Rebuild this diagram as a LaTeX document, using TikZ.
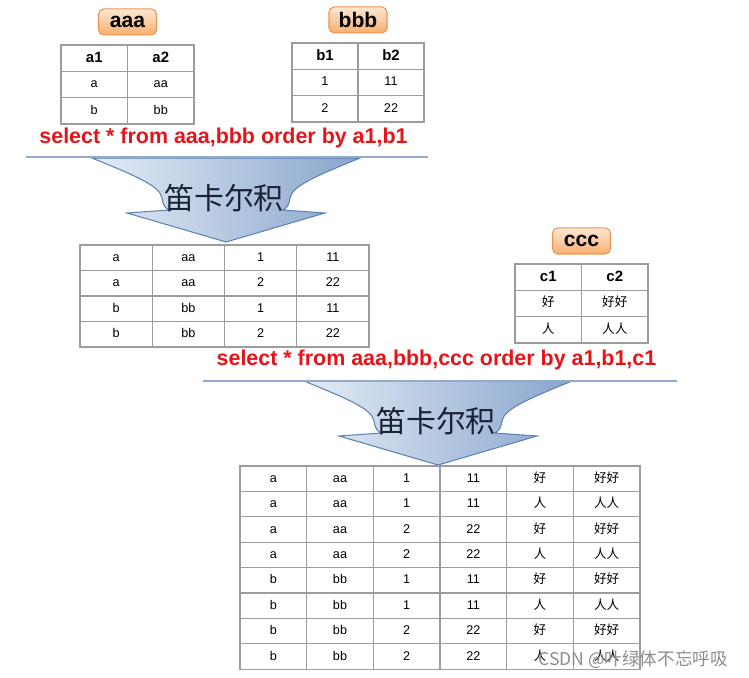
\documentclass[tikz,border=0pt]{standalone}
\usepackage{fontspec}
\setmainfont{Liberation Sans}
\newfontfamily\cjk{Noto Sans CJK SC}
\usetikzlibrary{matrix,positioning}

\definecolor{gridgray}{HTML}{9C9C9C}
\definecolor{sqlred}{HTML}{E5141B}
\definecolor{tagtop}{HTML}{FDE7D3}
\definecolor{tagbot}{HTML}{F8AE6E}
\definecolor{tagline}{HTML}{EF9450}
\definecolor{arrowleft}{HTML}{E4ECF6}
\definecolor{arrowright}{HTML}{88A5CC}
\definecolor{arrowline}{HTML}{5F82B2}
\definecolor{ruleblue}{HTML}{93ABCB}
\definecolor{inkblue}{HTML}{1B2236}

\newcommand\pu{0.02cm}

% the big curved down arrow, drawn from the middle of its top edge
\tikzset{
  pics/cartarrow/.style={code={
    \draw[bigarrow] (-134,0) .. controls (-90,18) and (-66,28) .. (-64,40)
      .. controls (-63,48) and (-60,51) .. (-56,52) -- (-99,55) -- (0,84)
      -- (99,55) -- (56,52) .. controls (60,51) and (63,48) .. (64,40)
      .. controls (66,28) and (90,18) .. (134,0) -- cycle;
    \node[arrowtext] (-txt) at (-2,40) {笛卡尔积};
  }}
}

\begin{document}
\begin{tikzpicture}[
  x=\pu, y=-\pu,
  cell/.style={draw=gridgray, line width=0.75pt, inner sep=0pt, anchor=center,
               text height=5.4pt, text depth=1.4pt,
               font=\fontsize{7.2}{8}\selectfont},
  head/.style={text height=6.3pt, text depth=1.7pt,
               font=\fontsize{8.5}{10}\selectfont\bfseries},
  tab/.style={matrix of nodes, anchor=north west, inner sep=0pt,
              column sep=-0.75pt, row sep=-0.75pt, nodes={cell},
              row 1/.style={nodes={#1}}},
  tab/.default={},
  tag/.style={draw=tagline, line width=0.6pt, rounded corners=3pt,
              top color=tagtop, bottom color=tagbot, inner sep=0pt,
              minimum width=58*\pu, minimum height=26*\pu,
              font=\fontsize{12}{14}\selectfont\bfseries},
  sql/.style={text=sqlred, font=\fontsize{12.2}{14}\selectfont\bfseries},
  rule/.style={draw=ruleblue, line width=1.2pt},
  bigarrow/.style={draw=arrowline, line width=0.6pt,
                   left color=arrowleft, right color=arrowright},
  arrowtext/.style={text=inkblue, font=\cjk\fontsize{17}{20}\selectfont},
  node distance=0.17cm
]
\useasboundingbox (0,0) rectangle (749,678);

% source tables
\matrix[tab=head, nodes={minimum width=66.5*\pu, minimum height=26.3*\pu}]
  (aaatab) at (60,44) {
  a1 & a2 \\
  a  & aa \\
  b  & bb \\
};
\matrix[tab=head, nodes={minimum width=66*\pu, minimum height=26.3*\pu}]
  (bbbtab) at (291,42) {
  b1 & b2 \\
  1  & 11 \\
  2  & 22 \\
};
\node[tag, above=of aaatab] (aaa) {aaa};
\node[tag, above=of bbbtab] (bbb) {bbb};

\node[sql] (sql1) at (223.5,138) {select * from aaa,bbb order by a1,b1};

% first product
\pic (arr1) at (226,158) {cartarrow};
\draw[rule] (26,157) -- (428,157);

\matrix[tab, nodes={minimum width=72.25*\pu, minimum height=25.5*\pu}]
  (abtab) at (79,244) {
  a & aa & 1 & 11 \\
  a & aa & 2 & 22 \\
  b & bb & 1 & 11 \\
  b & bb & 2 & 22 \\
};

\matrix[tab=head, nodes={minimum width=66.5*\pu, minimum height=26.3*\pu}]
  (ccctab) at (514,263) {
  c1 & c2 \\
  {\cjk 好} & {\cjk 好好} \\
  {\cjk 人} & {\cjk 人人} \\
};
\node[tag, above=of ccctab] (ccc) {ccc};

\node[sql] (sql2) at (436.5,360) {select * from aaa,bbb,ccc order by a1,b1,c1};

% second product
\pic (arr2) at (438,381) {cartarrow};
\draw[rule] (203,381) -- (677,381);

\matrix[tab, nodes={minimum width=66.67*\pu, minimum height=25.4*\pu}]
  (abctab) at (239,465) {
  a & aa & 1 & 11 & {\cjk 好} & {\cjk 好好} \\
  a & aa & 1 & 11 & {\cjk 人} & {\cjk 人人} \\
  a & aa & 2 & 22 & {\cjk 好} & {\cjk 好好} \\
  a & aa & 2 & 22 & {\cjk 人} & {\cjk 人人} \\
  b & bb & 1 & 11 & {\cjk 好} & {\cjk 好好} \\
  b & bb & 1 & 11 & {\cjk 人} & {\cjk 人人} \\
  b & bb & 2 & 22 & {\cjk 好} & {\cjk 好好} \\
  b & bb & 2 & 22 & {\cjk 人} & {\cjk 人人} \\
};

\node[text=black!45, font=\cjk\fontsize{10}{12}\selectfont, anchor=east]
  (mark) at (734,660) {CSDN @叶绿体不忘呼吸};
\end{tikzpicture}
\end{document}
